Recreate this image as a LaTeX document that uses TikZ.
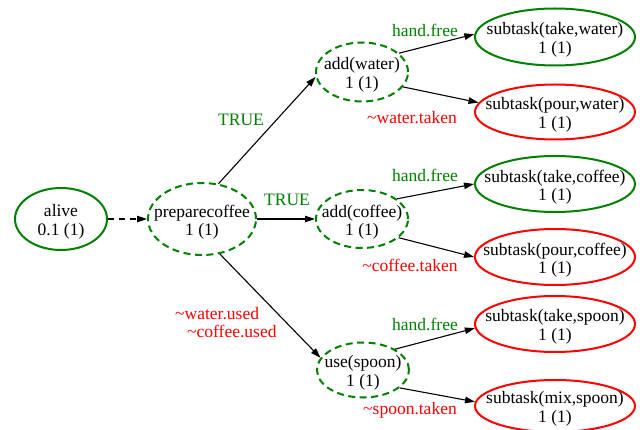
\documentclass[tikz,border=0pt]{standalone}
\usepackage{fontspec}
\setmainfont{Liberation Serif}
\usetikzlibrary{shapes.geometric,arrows.meta}
\definecolor{okgreen}{RGB}{0,128,0}
\definecolor{badred}{RGB}{255,0,0}
\tikzset{
  txt/.style={font=\fontsize{17.5}{18.5}\selectfont, inner sep=0pt, align=center, text=black, yshift=-3pt},
  task/.style={ellipse, draw, line width=2pt, inner sep=0pt,
    label={[txt]center:#1}},
  goal/.style={task={#1}, okgreen},
  fail/.style={task={#1}, badred},
  open/.style={task={#1}, okgreen, dashed, dash pattern=on 7pt off 4.5pt},
  link/.style={draw=black, line width=1.1pt, -{Triangle[length=10pt,width=6.5pt]}},
  cond/.style={font=\fontsize{17.5}{18.5}\selectfont, inner sep=0pt},
  yes/.style={cond, text=okgreen},
  no/.style={cond, text=badred},
}
\begin{document}
\begin{tikzpicture}[x=1pt,y=-1pt]
\useasboundingbox (0,0) rectangle (640,430);

% task nodes (text sits in a centred label so the ellipse keeps its size)
\node[goal={alive\\0.1 (1)}, minimum width=92pt, minimum height=62pt] (alive) at (61,219) {};
\node[open={preparecoffee\\1 (1)}, minimum width=108pt, minimum height=72pt] (pc) at (202,219) {};
\node[open={add(water)\\1 (1)}, minimum width=92pt, minimum height=59pt] (aw) at (362,72) {};
\node[open={add(coffee)\\1 (1)}, minimum width=92pt, minimum height=58pt] (ac) at (362,219) {};
\node[open={use(spoon)\\1 (1)}, minimum width=92pt, minimum height=55pt] (us) at (363,370) {};
\node[goal={subtask(take,water)\\1 (1)}, minimum width=160pt, minimum height=57pt] (tw) at (555,37) {};
\node[fail={subtask(pour,water)\\1 (1)}, minimum width=160pt, minimum height=55pt] (pw) at (555,112) {};
\node[goal={subtask(take,coffee)\\1 (1)}, minimum width=160pt, minimum height=56pt] (tc) at (555,184) {};
\node[fail={subtask(pour,coffee)\\1 (1)}, minimum width=160pt, minimum height=56pt] (pcf) at (555,257) {};
\node[fail={subtask(take,spoon)\\1 (1)}, minimum width=160pt, minimum height=56pt] (ts) at (555,324) {};
\node[fail={subtask(mix,spoon)\\1 (1)}, minimum width=160pt, minimum height=52pt] (ms) at (555,406) {};

% connectors
\draw[link, dashed, dash pattern=on 6pt off 5pt] (alive) -- (pc);
\draw[link] (pc.65) -- (aw.186);
\draw[link] (pc.east) -- (ac.west);
\draw[link] (pc.-63) -- (us.164);
\draw[link] (aw.27) -- (tw.178);
\draw[link] (aw.-20) -- (pw.173);
\draw[link] (ac.30) -- (tc.180);
\draw[link] (ac.-27) -- (pcf.180);
\draw[link] (us.33) -- (ts.183);
\draw[link] (us.-26) -- (ms.177);

% edge conditions
\node[yes] (l1) at (241,120) {TRUE};
\node[yes] (l2) at (287,200) {TRUE};
\node[no, anchor=west] (l3) at (175,314) {\textasciitilde water.used};
\node[no, anchor=west] (l4) at (187,331) {\textasciitilde coffee.used};
\node[yes] (l5) at (425,30) {hand.free};
\node[no] (l6) at (412,118) {\textasciitilde water.taken};
\node[yes] (l7) at (425,175) {hand.free};
\node[no] (l8) at (410,265) {\textasciitilde coffee.taken};
\node[yes] (l9) at (425,324) {hand.free};
\node[no] (l10) at (410,410) {\textasciitilde spoon.taken};
\end{tikzpicture}
\end{document}
